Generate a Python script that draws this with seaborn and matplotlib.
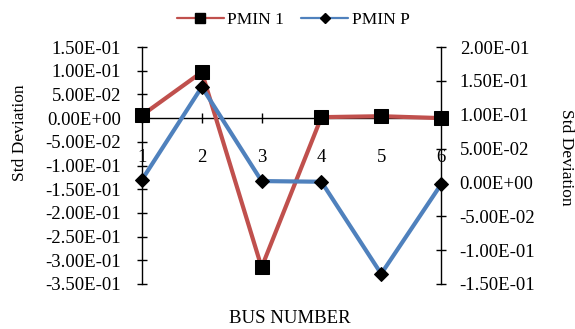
import matplotlib
matplotlib.use("Agg")
import matplotlib.pyplot as plt
import matplotlib.ticker as mticker
from matplotlib.lines import Line2D
import seaborn as sns
import numpy as np
import pandas as pd

# ---- data ----
bus = [1, 2, 3, 4, 5, 6]
pmin_1 = [0.006, 0.097, -0.315, 0.002, 0.004, 0.000]   # left axis
pmin_p = [0.004, 0.141, 0.002, 0.001, -0.135, -0.003]  # right axis
left_ticks = [0.15, 0.10, 0.05, 0.0, -0.05, -0.10, -0.15, -0.20, -0.25, -0.30, -0.35]
right_ticks = [0.20, 0.15, 0.10, 0.05, 0.0, -0.05, -0.10, -0.15]
series_names = ["PMIN 1", "PMIN P"]

RED = "#C0504D"
BLUE = "#4F81BD"

sns.set_theme(style="white")
plt.rcParams['font.family'] = ['Liberation Serif', 'DejaVu Serif']
plt.rcParams['text.color'] = 'black'
plt.rcParams['axes.labelcolor'] = 'black'
plt.rcParams['xtick.color'] = 'black'
plt.rcParams['ytick.color'] = 'black'
FS = 13.5

fig = plt.figure(figsize=(5.75, 3.29), dpi=100)
ax = fig.add_axes([142/575, 1-284/329, (441-142)/575, (284-47)/329])
ax2 = ax.twinx()

df = pd.DataFrame({"bus": bus, "p1": pmin_1, "pp": pmin_p})

sns.lineplot(data=df, x="bus", y="p1", ax=ax, color=RED, linewidth=3,
             marker="s", markersize=9.5, markerfacecolor="black",
             markeredgecolor="black", clip_on=False, zorder=5)
sns.lineplot(data=df, x="bus", y="pp", ax=ax2, color=BLUE, linewidth=3,
             marker="D", markersize=7.5, markerfacecolor="black",
             markeredgecolor="black", clip_on=False, zorder=5)

fmt = mticker.FuncFormatter(lambda v, p: f"{v:.2E}")

ax.set_xlim(1, 6)
ax.set_ylim(-0.35, 0.15)
ax2.set_ylim(-0.15, 0.20)
ax.set_yticks(left_ticks)
ax2.set_yticks(right_ticks)
ax.yaxis.set_major_formatter(fmt)
ax2.yaxis.set_major_formatter(fmt)
ax.set_xticks(bus)
ax.set_xticklabels([str(b) for b in bus])

ax.spines["top"].set_visible(False)
ax.spines["bottom"].set_position(("data", 0))
for s in ["top", "bottom", "left"]:
    ax2.spines[s].set_visible(False)
for a in (ax, ax2):
    for sp in a.spines.values():
        sp.set_color("black")
        sp.set_linewidth(1)
ax.spines["right"].set_visible(False)
ax2.spines["right"].set_visible(True)

ax.tick_params(axis="y", direction="inout", length=7, width=1, color="black",
               labelsize=FS, pad=11.5, left=True, labelcolor="black")
ax2.tick_params(axis="y", direction="inout", length=7, width=1, color="black",
                labelsize=FS, pad=10, right=True, labelcolor="black")
ax.tick_params(axis="x", direction="inout", length=7, width=1, color="black",
               labelsize=FS, pad=19, bottom=True, labelcolor="black")

ax.set_xlabel("BUS NUMBER", fontsize=FS, color="black")
ax.xaxis.set_label_coords(0.495, -0.11)
ax.set_ylabel("Std Deviation", fontsize=12.5, color="black")
ax.yaxis.set_label_coords(-0.381, 0.64)
ax2.set_ylabel("Std Deviation", fontsize=12.5, rotation=270, va="bottom", color="black")
ax2.yaxis.set_label_coords(1.39, 0.536)
ax2.yaxis.label.set_verticalalignment("bottom")

handles = [
    Line2D([], [], color=RED, linewidth=1.6, marker="s", markersize=6.5,
           markerfacecolor="black", markeredgecolor="black"),
    Line2D([], [], color=BLUE, linewidth=1.6, marker="D", markersize=5,
           markerfacecolor="black", markeredgecolor="black"),
]
fig.legend(handles, series_names, loc="upper center", bbox_to_anchor=(0.51, 1.01),
           ncol=2, frameon=False, fontsize=12.5, handlelength=2.7,
           columnspacing=1.0, handletextpad=0.2)

fig.savefig("out.png", dpi=100)
